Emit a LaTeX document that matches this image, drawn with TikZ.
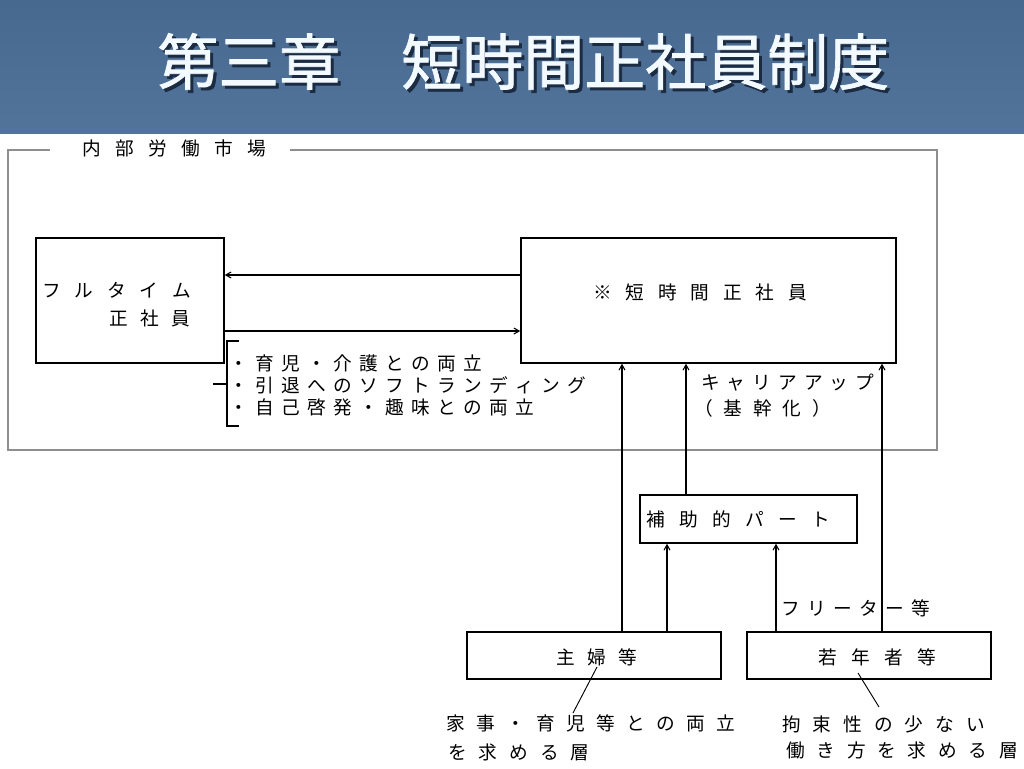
\documentclass[tikz,border=0pt]{standalone}
\usepackage{fontspec}
\newfontfamily\jp{Noto Sans CJK JP}
\newfontfamily\jptitle[FakeBold=1.2]{Noto Sans CJK JP}
\usetikzlibrary{arrows.meta}
\makeatletter
\newcommand\spaced[2]{\@tfor\@ch:=#2\do{\makebox[#1][l]{\@ch}}}
\makeatother
\definecolor{hdtop}{HTML}{476990}
\definecolor{hdbot}{HTML}{52749A}
\definecolor{titlefg}{HTML}{F2F9FF}
\definecolor{titleshadow}{HTML}{1B2B42}
\definecolor{framegray}{HTML}{8E8E8E}
\newcommand\shadowtext[1]{\rlap{\hspace{2.25pt}\raisebox{-2.25pt}{\color{titleshadow}#1}}#1}
\begin{document}
\begin{tikzpicture}[x=0.75pt,y=-0.75pt,
  box/.style={draw, line width=1.1pt, inner sep=0pt},
  txt/.style={inner sep=0pt, anchor=west, font=\jp\fontsize{14pt}{16pt}\selectfont},
  arr/.style={line width=0.8pt, -{Straight Barb[length=4pt,width=4.5pt]}},
  pline/.style={line width=0.7pt},
  frame/.style={draw=framegray, line width=2.2pt}]
\useasboundingbox (0,0) rectangle (1024,768);
\fill[white] (0,0) rectangle (1024,768);
% header
\shade[top color=hdtop, bottom color=hdbot] (0,0) rectangle (1024,133);
\node[inner sep=0pt, anchor=west, text=titlefg,
  font=\jptitle\fontsize{45.75pt}{50pt}\selectfont] (title) at (157,63) {\shadowtext{第三章　短時間正社員制度}};
% outer frame
\draw[frame] (50,150) -- (8,150) -- (8,450) -- (937,450) -- (937,150) -- (290,150);
\node[txt] (tframe) at (82,148) {\spaced{24.75pt}{内部労働市場}};
% boxes
\node[box, minimum width=141pt, minimum height=93.75pt] (full) at (130,300.5) {};
\node[box, minimum width=281.25pt, minimum height=93.75pt] (short) at (708.5,300.5) {};
\node[box, minimum width=162.75pt, minimum height=36pt] (hojo) at (748.5,519) {};
\node[box, minimum width=190.5pt, minimum height=35.25pt] (shufu) at (594,655.5) {};
\node[box, minimum width=183pt, minimum height=35.25pt] (jaku) at (869,655.5) {};
% texts
\node[txt] (tfull1) at (42,290) {\spaced{24.4pt}{フルタイム}};
\node[txt] (tfull2) at (109,318) {\spaced{23.25pt}{正社員}};
\node[txt] (tshort) at (593,292) {\spaced{24.4pt}{※短時間正社員}};
\node[txt] (l1) at (229,363) {\spaced{19.5pt}{・育児・介護との両立}};
\node[txt] (l2) at (229,385) {\spaced{19.5pt}{・引退へのソフトランディング}};
\node[txt] (l3) at (229,407) {\spaced{19.5pt}{・自己啓発・趣味との両立}};
\node[txt] (c1) at (701,383) {\spaced{19.3pt}{キャリアアップ}};
\node[txt] (c2) at (694,408) {\spaced{22.1pt}{（基幹化）}};
\node[txt] (thojo) at (646,519) {\spaced{24.75pt}{補助的パート}};
\node[txt] (tfree) at (781,608) {\spaced{19.5pt}{フリーター等}};
\node[txt] (tshufu) at (556,657) {\spaced{23.25pt}{主婦等}};
\node[txt] (tjaku) at (818,657) {\spaced{24.75pt}{若年者等}};
\node[txt] (b1) at (446,723) {\spaced{22.5pt}{家事・育児等との両立}};
\node[txt] (b2) at (448,752) {\spaced{23pt}{を求める層}};
\node[txt] (b3) at (782,724) {\spaced{23pt}{拘束性の少ない}};
\node[txt] (b4) at (786,750) {\spaced{22.8pt}{働き方を求める層}};
% helper coordinates
\coordinate (ya) at (0,275);
\coordinate (yb) at (0,331);
\coordinate (xa) at (622,0);
\coordinate (xb) at (686,0);
\coordinate (xc) at (882,0);
\coordinate (xd) at (667,0);
\coordinate (xe) at (776,0);
% horizontal arrows
\draw[arr] (short.west |- ya) -- (full.east |- ya);
\draw[arr] (full.east |- yb) -- (short.west |- yb);
% vertical arrows
\draw[arr] (shufu.north -| xa) -- (short.south -| xa);
\draw[arr] (hojo.north -| xb) -- (short.south -| xb);
\draw[arr] (jaku.north -| xc) -- (short.south -| xc);
\draw[arr] (shufu.north -| xd) -- (hojo.south -| xd);
\draw[arr] (jaku.north -| xe) -- (hojo.south -| xe);
% brace
\coordinate (brt) at (239,341);
\coordinate (brb) at (239,426);
\draw[line width=0.8pt] (brt) -- (227,341) -- (227,426) -- (brb);
\draw[line width=0.8pt] (213,384) -- (227,384);
% pointer lines
\coordinate (p1) at (597,667);
\coordinate (p2) at (573,713);
\coordinate (q1) at (858,673);
\coordinate (q2) at (879,707);
\draw[pline] (p1) -- (p2);
\draw[pline] (q1) -- (q2);
\end{tikzpicture}
\end{document}
